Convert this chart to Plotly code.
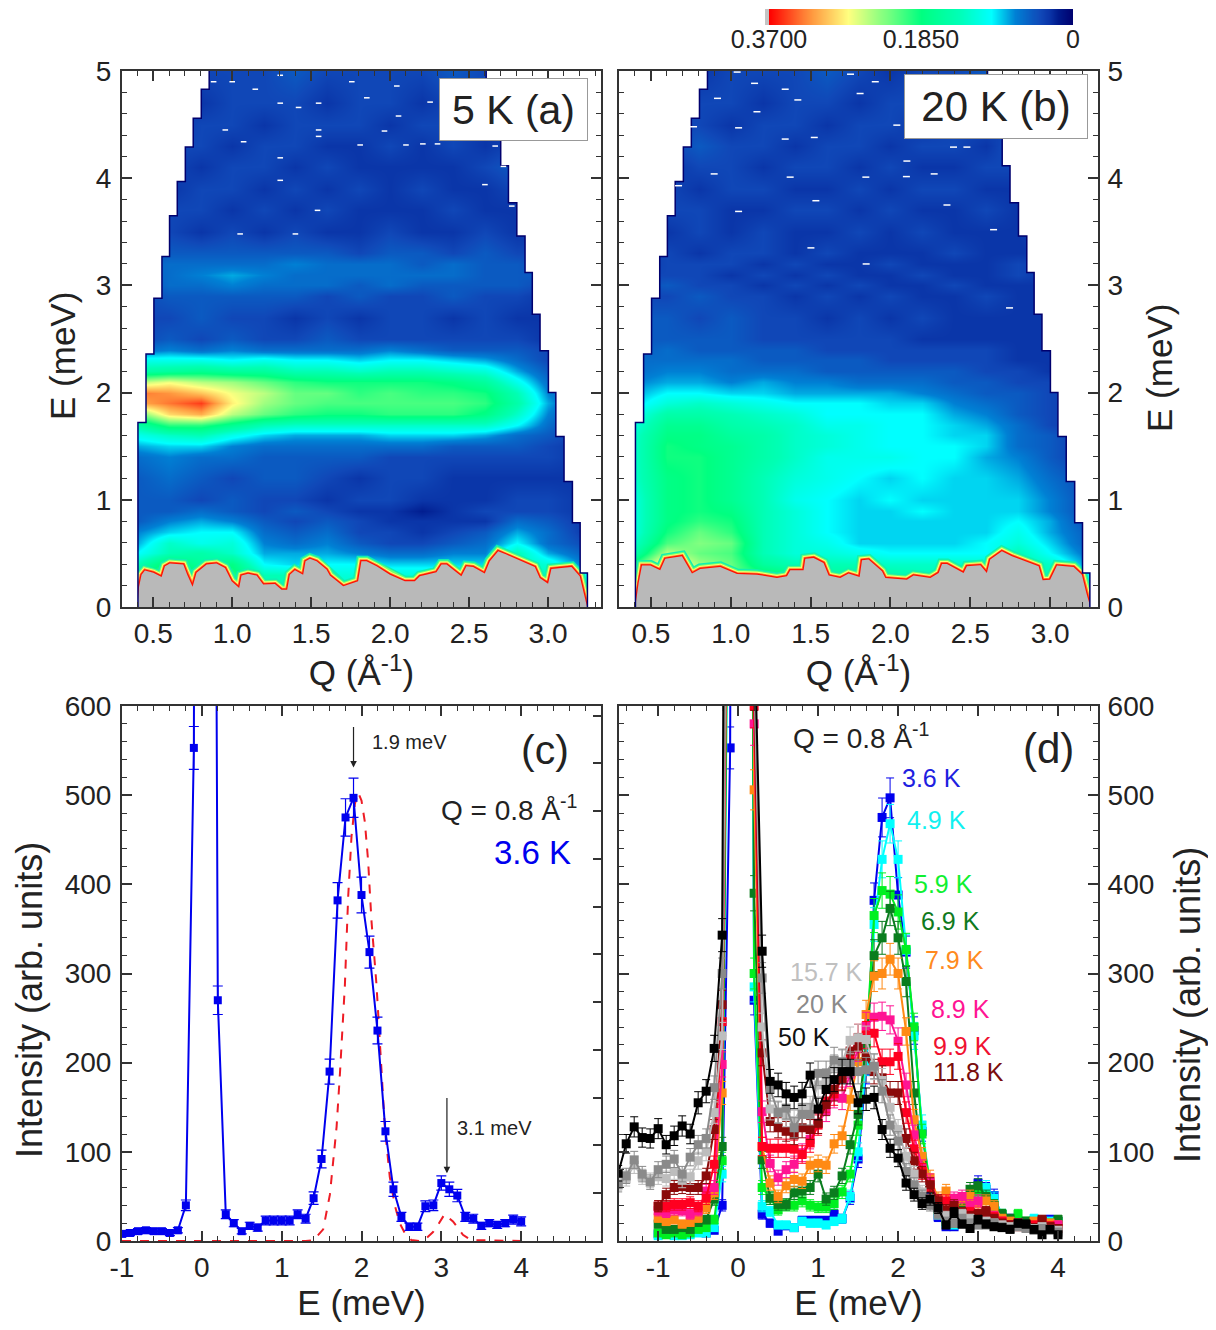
import numpy as np
import plotly.graph_objects as go

# page has an 8 px body margin, so the figure is a little smaller than the window
W, H = 1200, 1314
OFF = 8


def fx(x):
    return (x - OFF) / W


def fy(y):
    return 1 - (y - OFF) / H


# Colour maps: Q, E axes of the maps and z in units of 0.01
q_grid = [0.4, 0.6, 0.8, 1.0, 1.2, 1.4, 1.6, 1.8, 2.0, 2.2, 2.4, 2.6, 2.8, 3.0, 3.25]
e_grid = [0.1, 0.3, 0.4, 0.5, 0.6, 0.7, 0.8, 0.9, 1.0, 1.2, 1.4, 1.5, 1.6, 1.7, 1.8, 1.9, 2.0, 2.1,
          2.2, 2.3, 2.4, 2.5, 2.7, 2.9, 3.0, 3.1, 3.2, 3.3, 3.5, 3.7, 3.9, 4.1, 4.3, 4.5, 4.7, 5.0]
z_5k = [
    [14, 14, 14, 14, 14, 14, 14, 14, 14, 14, 14, 14, 14, 14, 10],
    [18, 23, 20, 20, 14, 14, 12, 12, 12, 12, 12, 12, 14, 14, 10],
    [14, 20, 16, 18, 10, 9, 10, 10, 9, 9, 9, 9, 14, 12, 6],
    [10, 14, 15, 13, 8, 8, 8, 7, 6, 6, 7, 7, 14, 8, 5],
    [8, 13, 11, 12, 7, 6, 7, 5, 4, 4, 5, 6, 10, 6, 4],
    [7, 9, 10, 10, 6, 5, 6, 4, 4, 3, 4, 5, 8, 6, 3],
    [5, 7, 8, 7, 5, 4, 5, 4, 3, 3, 3, 3, 6, 5, 3],
    [5, 5, 6, 5, 4, 5, 4, 3, 3, 2, 3, 4, 4, 4, 3],
    [5, 5, 4, 5, 4, 4, 3, 4, 4, 3, 3, 3, 4, 4, 3],
    [5, 6, 5, 4, 5, 5, 4, 3, 4, 4, 3, 3, 3, 3, 3],
    [6, 7, 6, 6, 5, 5, 5, 5, 4, 4, 4, 4, 4, 4, 3],
    [8, 9, 9, 7, 6, 6, 6, 6, 6, 6, 5, 5, 5, 4, 3],
    [11, 13, 14, 11, 9, 8, 8, 8, 9, 9, 9, 8, 6, 5, 3],
    [15, 20, 20, 17, 14, 13, 13, 13, 13, 13, 13, 13, 10, 6, 3],
    [22, 29, 31, 25, 22, 20, 19, 19, 20, 20, 20, 18, 13, 7, 3],
    [31, 33, 35, 28, 24, 22, 21, 21, 21, 21, 21, 20, 15, 8, 3],
    [33, 32, 30, 27, 25, 22, 22, 20, 21, 20, 20, 19, 14, 7, 3],
    [25, 27, 25, 24, 22, 20, 19, 19, 19, 19, 18, 16, 11, 6, 3],
    [15, 16, 17, 16, 16, 14, 14, 13, 14, 14, 13, 12, 8, 5, 3],
    [11, 11, 11, 10, 11, 10, 10, 9, 10, 10, 9, 8, 6, 4, 3],
    [6, 7, 6, 7, 6, 6, 6, 6, 7, 6, 5, 5, 5, 4, 3],
    [4, 5, 4, 5, 4, 4, 5, 4, 4, 4, 4, 4, 4, 3, 3],
    [4, 4, 5, 4, 4, 3, 4, 3, 4, 4, 3, 4, 3, 3, 3],
    [4, 5, 5, 5, 5, 5, 4, 5, 4, 4, 5, 4, 4, 3, 3],
    [4, 6, 6, 7, 6, 6, 6, 5, 6, 5, 5, 5, 5, 4, 3],
    [5, 6, 7, 8, 7, 6, 6, 6, 6, 6, 6, 5, 5, 5, 3],
    [5, 6, 6, 6, 6, 7, 6, 6, 6, 5, 6, 5, 5, 4, 3],
    [4, 5, 5, 5, 5, 5, 5, 4, 5, 5, 4, 5, 4, 4, 3],
    [3, 4, 3, 4, 3, 4, 3, 3, 4, 3, 3, 4, 3, 3, 3],
    [3, 4, 4, 3, 4, 3, 4, 3, 3, 3, 4, 3, 3, 4, 3],
    [3, 3, 4, 4, 3, 4, 3, 4, 3, 4, 3, 3, 4, 3, 3],
    [3, 4, 3, 4, 4, 3, 4, 3, 3, 3, 3, 4, 5, 4, 3],
    [3, 4, 4, 3, 4, 4, 3, 3, 4, 3, 4, 3, 4, 3, 3],
    [3, 3, 4, 4, 3, 4, 4, 4, 3, 4, 4, 3, 3, 3, 3],
    [3, 4, 3, 4, 4, 4, 3, 4, 4, 3, 4, 4, 3, 3, 3],
    [3, 4, 4, 4, 4, 5, 4, 4, 4, 4, 5, 4, 3, 3, 3],
]
z_20k = [
    [14, 14, 14, 14, 14, 14, 14, 14, 14, 14, 14, 14, 14, 14, 10],
    [25, 25, 25, 22, 20, 18, 16, 16, 15, 14, 14, 14, 14, 14, 10],
    [20, 30, 24, 22, 16, 14, 14, 14, 13, 13, 13, 13, 15, 13, 7],
    [15, 25, 22, 21, 14, 12, 12, 11, 10, 10, 10, 10, 14, 10, 6],
    [13, 21, 23, 22, 14, 12, 11, 9, 9, 9, 9, 10, 12, 9, 5],
    [12, 19, 22, 20, 14, 12, 10, 9, 9, 9, 9, 9, 11, 8, 5],
    [12, 18, 20, 19, 14, 12, 10, 9, 9, 9, 9, 9, 10, 8, 4],
    [12, 18, 19, 18, 14, 12, 10, 9, 9, 10, 9, 9, 9, 7, 4],
    [12, 18, 19, 17, 14, 11, 10, 9, 10, 9, 9, 9, 9, 7, 4],
    [13, 18, 19, 17, 14, 12, 11, 10, 9, 10, 9, 9, 8, 6, 4],
    [13, 19, 19, 17, 15, 13, 11, 11, 11, 10, 10, 8, 7, 5, 3],
    [13, 19, 18, 17, 15, 13, 12, 11, 10, 10, 10, 9, 6, 5, 3],
    [13, 18, 18, 16, 15, 13, 12, 11, 10, 10, 9, 9, 6, 5, 3],
    [12, 17, 17, 15, 14, 13, 11, 11, 10, 10, 9, 8, 6, 4, 3],
    [11, 15, 15, 14, 13, 12, 10, 10, 10, 10, 8, 7, 5, 4, 3],
    [9, 12, 13, 12, 11, 10, 10, 10, 9, 9, 7, 6, 5, 4, 3],
    [8, 10, 10, 9, 9, 8, 8, 8, 8, 7, 6, 5, 5, 4, 3],
    [7, 8, 8, 7, 8, 7, 7, 6, 6, 6, 5, 5, 4, 4, 3],
    [6, 7, 7, 6, 6, 6, 5, 5, 5, 5, 5, 4, 4, 3, 3],
    [6, 6, 6, 6, 5, 5, 5, 5, 4, 4, 4, 4, 3, 3, 3],
    [5, 6, 5, 5, 5, 5, 4, 4, 4, 4, 4, 4, 3, 3, 3],
    [5, 5, 5, 5, 4, 4, 4, 4, 4, 3, 3, 3, 3, 3, 3],
    [5, 5, 4, 5, 4, 4, 3, 4, 3, 4, 3, 3, 3, 3, 3],
    [4, 4, 5, 4, 4, 3, 4, 3, 4, 3, 3, 4, 3, 3, 3],
    [4, 5, 4, 4, 3, 4, 3, 4, 3, 3, 4, 3, 3, 3, 3],
    [4, 4, 4, 3, 4, 3, 4, 3, 3, 4, 3, 3, 4, 3, 3],
    [3, 4, 4, 4, 3, 4, 3, 3, 4, 3, 3, 3, 4, 3, 3],
    [3, 4, 3, 4, 4, 3, 4, 3, 3, 3, 4, 3, 3, 3, 3],
    [3, 3, 4, 3, 4, 3, 3, 4, 3, 4, 3, 3, 3, 4, 3],
    [3, 4, 4, 3, 3, 4, 4, 3, 4, 3, 3, 4, 3, 3, 3],
    [3, 4, 3, 4, 4, 3, 3, 4, 3, 4, 4, 3, 3, 3, 3],
    [3, 3, 4, 4, 3, 4, 4, 3, 4, 3, 3, 4, 4, 3, 3],
    [3, 4, 5, 4, 4, 3, 4, 4, 3, 4, 4, 3, 5, 3, 3],
    [3, 4, 4, 3, 4, 4, 3, 4, 4, 3, 4, 4, 3, 3, 3],
    [3, 4, 4, 4, 3, 4, 4, 3, 4, 4, 3, 4, 3, 3, 3],
    [3, 4, 3, 4, 4, 4, 5, 4, 3, 4, 4, 5, 3, 3, 3],
]

# Kinematic limits of the maps
left_e = [4.83, 4.56, 4.29, 3.97, 3.65, 3.27, 2.88, 2.36, 1.72, -0.1]
left_q = [0.854, 0.804, 0.753, 0.703, 0.652, 0.603, 0.555, 0.504, 0.454, 0.403]
right_e = [4.80, 4.46, 4.115, 3.77, 3.46, 3.12, 2.73, 2.39, 2.0, 1.59, 1.17, 0.785, 0.317, -0.1]
right_q = [2.608, 2.654, 2.70, 2.749, 2.802, 2.854, 2.90, 2.949, 3.002, 3.049, 3.101, 3.154, 3.203, 3.249]

# Elastic line cut-off (grey part)
cut_q_5k = [0.40, 0.41, 0.426, 0.447, 0.50, 0.553, 0.574, 0.605, 0.69, 0.715, 0.749, 0.774, 0.838, 0.90, 0.954,
            0.996, 1.044, 1.059, 1.10, 1.154, 1.196, 1.27, 1.312, 1.348, 1.365, 1.397, 1.449, 1.464, 1.492, 1.534,
            1.597, 1.618, 1.703, 1.797, 1.818, 1.85, 1.914, 1.998, 2.093, 2.156, 2.188, 2.293, 2.325, 2.357, 2.451,
            2.483, 2.525, 2.599, 2.631, 2.684, 2.736, 2.916, 2.947, 3.0, 3.021, 3.148, 3.20, 3.228, 3.247]
cut_e_5k = [0, 0.19, 0.30, 0.34, 0.32, 0.28, 0.38, 0.405, 0.396, 0.30, 0.19, 0.32, 0.396, 0.405, 0.364,
            0.24, 0.178, 0.293, 0.31, 0.293, 0.21, 0.215, 0.162, 0.162, 0.30, 0.343, 0.30, 0.427, 0.449, 0.427,
            0.349, 0.293, 0.193, 0.24, 0.427, 0.427, 0.38, 0.302, 0.24, 0.24, 0.287, 0.324, 0.396, 0.396, 0.287,
            0.38, 0.374, 0.312, 0.427, 0.52, 0.489, 0.374, 0.271, 0.218, 0.355, 0.374, 0.287, 0.13, 0]
cut_q_20k = [0.402, 0.423, 0.444, 0.496, 0.558, 0.59, 0.694, 0.757, 0.809, 0.934, 1.039, 1.164, 1.289, 1.352,
             1.373, 1.456, 1.467, 1.519, 1.581, 1.613, 1.686, 1.738, 1.807, 1.822, 1.863, 1.947, 1.968, 2.103,
             2.145, 2.25, 2.302, 2.323, 2.354, 2.458, 2.479, 2.563, 2.604, 2.625, 2.698, 2.761, 2.928, 2.953,
             3.0, 3.043, 3.147, 3.199, 3.227, 3.252]
cut_e_20k = [0, 0.224, 0.386, 0.386, 0.343, 0.449, 0.474, 0.312, 0.355, 0.374, 0.308, 0.302, 0.271, 0.287,
             0.343, 0.343, 0.449, 0.458, 0.411, 0.293, 0.271, 0.312, 0.28, 0.436, 0.442, 0.333, 0.271, 0.255,
             0.293, 0.271, 0.318, 0.402, 0.402, 0.318, 0.38, 0.389, 0.318, 0.442, 0.52, 0.474, 0.38, 0.249,
             0.255, 0.386, 0.374, 0.302, 0.131, 0]

# White hot pixels at high E
spot_q_5k = [1.0, 1.146, 0.882, 1.304, 1.757, 2.042, 2.253, 1.852, 1.304, 1.547, 1.42, 2.053, 0.956, 1.547, 1.964,
             1.072, 1.547, 1.81, 2.10, 2.207, 2.30, 2.665, 2.717, 2.60, 1.304, 1.54, 1.304, 2.77, 1.40, 1.05]
spot_e_5k = [4.90, 4.83, 4.90, 4.96, 4.90, 4.86, 4.71, 4.75, 4.70, 4.70, 4.66, 4.58, 4.45, 4.45, 4.44,
             4.34, 4.39, 4.31, 4.31, 4.32, 4.32, 4.30, 4.11, 3.94, 3.98, 3.70, 4.19, 3.74, 3.48, 3.48]
spot_q_20k = [1.04, 1.149, 1.905, 1.75, 1.341, 1.81, 0.917, 1.42, 1.164, 1.049, 1.341, 1.523, 0.767, 2.395, 2.479,
              2.103, 0.896, 1.372, 1.846, 2.10, 2.274, 0.673, 1.533, 1.049, 2.354, 2.646, 1.502, 1.848, 2.746, 2.04]
spot_e_20k = [4.99, 4.885, 4.90, 4.97, 4.83, 4.79, 4.745, 4.73, 4.62, 4.47, 4.365, 4.38, 4.48, 4.29, 4.29,
              4.16, 4.04, 4.01, 4.01, 4.015, 4.04, 3.93, 3.79, 3.69, 3.75, 3.52, 3.35, 3.20, 2.79, 4.495]

# Cuts at Q = 0.8, energy transfer in meV
e_short = [round(-1.0 + 0.1 * i, 1) for i in range(51)]
e_long = [round(-1.5 + 0.1 * i, 1) for i in range(56)]
i_36 = [8, 9, 11, 12, 11, 11, 9, 12, 40, 553, 4000, 2500, 270, 30, 20, 11, 17, 15, 23, 23, 23, 23, 30, 25, 48, 92,
        190, 382, 475, 497, 388, 324, 236, 123, 58, 27, 16, 16, 39, 40, 65, 58, 51, 27, 25, 17, 20, 18, 20, 24, 22]
err_36 = [3, 3, 3, 3, 3, 3, 3, 3, 6, 24, 60, 50, 16, 5, 4, 3, 4, 4, 5, 5, 5, 5, 5, 5, 7, 10,
          14, 20, 21, 22, 20, 18, 15, 11, 8, 5, 4, 4, 6, 6, 8, 8, 7, 5, 5, 4, 4, 4, 4, 5, 5]
i_49 = [6, 9, 6, 6, 7, 9, 9, 15, 75, 1000, 4000, 2500, 285, 39, 33, 18, 18, 15, 22, 20, 20, 18, 22, 25, 50, 100,
        200, 355, 428, 468, 428, 326, 230, 130, 60, 30, 20, 18, 30, 40, 55, 60, 48, 30, 24, 20, 18, 25, 22, 22, 20]
i_59 = [9, 7, 9, 7, 9, 13, 15, 24, 90, 1050, 4000, 2500, 300, 60, 48, 35, 40, 40, 45, 40, 38, 38, 42, 55, 75, 130,
        220, 365, 393, 389, 369, 327, 240, 120, 65, 35, 22, 20, 35, 45, 55, 48, 40, 30, 22, 30, 22, 20, 22, 20, 22]
i_69 = [19, 13, 13, 15, 13, 21, 24, 47, 106, 1100, 4000, 2500, 390, 91, 48, 41, 41, 54, 56, 60, 75, 47, 54, 73, 108,
        142, 220, 320, 340, 373, 340, 291, 166, 88, 63, 35, 25, 30, 35, 58, 62, 50, 40, 30, 25, 20, 22, 20, 22, 18, 24]
i_79 = [26, 22, 24, 19, 21, 26, 37, 54, 166, 1150, 4000, 2500, 506, 106, 65, 50, 62, 69, 67, 85, 87, 85, 109, 118,
        159, 201, 254, 297, 300, 316, 300, 235, 136, 95, 71, 48, 56, 35, 47, 50, 42, 45, 39, 25, 22, 20, 18, 22, 20, 20, 18]
i_89 = [34, 32, 35, 34, 30, 34, 56, 60, 198, 1200, 4000, 2500, 580, 145, 87, 71, 80, 86, 99, 114, 132, 146, 162, 160,
        187, 216, 241, 251, 252, 248, 224, 175, 119, 82, 67, 45, 30, 48, 50, 40, 45, 30, 28, 22, 18, 20, 18, 15, 20, 16, 18]
i_99 = [39, 39, 41, 41, 43, 39, 48, 86, 246, 1250, 4000, 2500, 600, 106, 104, 104, 104, 103, 97, 110, 130, 157, 165,
        183, 209, 228, 231, 233, 201, 201, 207, 144, 103, 78, 60, 45, 45, 35, 30, 32, 30, 32, 27, 22, 18, 18, 16, 18, 22, 17, 14]
i_118 = [39, 52, 60, 61, 60, 60, 73, 125, 265, 1280, 4000, 2500, 620, 211, 134, 127, 123, 119, 127, 125, 132, 153, 170,
         182, 213, 218, 207, 190, 183, 166, 166, 115, 90, 75, 63, 45, 35, 40, 32, 28, 30, 33, 25, 20, 18, 16, 17, 15, 24, 16, 14]
i_157 = [65, 70, 85, 72, 68, 72, 70, 78, 68, 72, 90, 100, 144, 230, 1300, 4000, 2500, 650, 240, 148, 145, 140, 135, 150,
         150, 175, 180, 195, 200, 225, 228, 226, 195, 180, 150, 125, 95, 75, 55, 45, 35, 28, 25, 30, 25, 22, 22, 20, 18,
         16, 17, 15, 14, 16, 13, 12]
i_20 = [63, 73, 91, 75, 66, 80, 86, 92, 75, 94, 108, 115, 172, 300, 1350, 4000, 2500, 660, 295, 170, 144, 149, 127, 142,
        142, 188, 188, 203, 201, 198, 190, 192, 196, 168, 130, 112, 78, 63, 50, 40, 30, 22, 20, 25, 20, 18, 18, 20, 16,
        14, 16, 14, 12, 14, 12, 10]
i_50 = [76, 109, 128, 116, 115, 126, 108, 118, 129, 120, 155, 168, 216, 343, 1371, 4000, 2500, 700, 325, 179, 175, 165,
        161, 165, 186, 148, 170, 181, 190, 190, 155, 159, 161, 125, 104, 93, 65, 52, 42, 47, 37, 18, 32, 19, 14, 24, 19,
        16, 15, 13, 20, 19, 13, 7, 13, 7]

# Dashed fit in panel (c)
fit_e = [-1, 1.3, 1.4, 1.52, 1.604, 1.688, 1.73, 1.792, 1.833, 1.875, 1.917, 1.958, 2.0, 2.042, 2.083, 2.125, 2.188,
         2.25, 2.292, 2.354, 2.417, 2.479, 2.542, 2.625, 2.73, 2.81, 2.896, 2.958, 3.04, 3.146, 3.27, 3.375, 4.0]
fit_i = [0, 0, 1, 13, 52, 128, 188, 287, 386, 454, 490, 503, 494, 470, 426, 359, 287,
         199, 128, 72, 40, 20, 9, 1, 0, 3, 10, 18, 30, 22, 7, 1, 0]

series_d = [
    ('3.6 K', e_short, i_36, '#0000ee'), ('4.9 K', e_short, i_49, '#00ffff'), ('5.9 K', e_short, i_59, '#00f020'),
    ('6.9 K', e_short, i_69, '#0a7d1e'), ('7.9 K', e_short, i_79, '#ff8a14'), ('8.9 K', e_short, i_89, '#ff1493'),
    ('9.9 K', e_short, i_99, '#ff0020'), ('11.8 K', e_short, i_118, '#8b0a0a'), ('15.7 K', e_long, i_157, '#bdbdbd'),
    ('20 K', e_long, i_20, '#8a8a8a'), ('50 K', e_long, i_50, '#000000'),
]
labels_d = [('3.6 K', 931, 778, '#2020e0'), ('4.9 K', 936, 820, '#10f0f0'), ('5.9 K', 943, 884, '#10f030'),
            ('6.9 K', 950, 921, '#107a20'), ('7.9 K', 954, 960, '#ff8a20'), ('15.7 K', 826, 972, '#c0c0c0'),
            ('20 K', 822, 1004, '#8a8a8a'), ('8.9 K', 960, 1009, '#ff1493'), ('50 K', 804, 1037, '#111111'),
            ('9.9 K', 962, 1046, '#f01030'), ('11.8 K', 968, 1072, '#7a0c0c')]

q_ticks = [0.5, 1.0, 1.5, 2.0, 2.5, 3.0]
q_labels = ['0.5', '1.0', '1.5', '2.0', '2.5', '3.0']
e_ticks_c = [-1, 0, 1, 2, 3, 4, 5]
e_labels_c = ['-1', '0', '1', '2', '3', '4', '5']
e_ticks_d = [-1, 0, 1, 2, 3, 4]
e_labels_d = ['-1', '0', '1', '2', '3', '4']

bar_values = [0.37 * i / 60 for i in range(61)]
bar_ticks = [0.37, 0.185, 0]
bar_labels = ['0.3700', '0.1850', '0']

cmap = [[0, '#00006e'], [0.05, '#001a8c'], [0.08, '#0a35a8'], [0.11, '#1048b8'], [0.19, '#0080d4'], [0.27, '#00ffff'],
        [0.38, '#00ffb4'], [0.5, '#00ff80'], [0.62, '#80ff80'], [0.74, '#ffff80'], [0.86, '#ff9a40'], [1, '#ff0000']]

FONT = 'Liberation Sans'
INK = '#222222'
AX = '#333333'


def axis(dom, rng, anc, major, minor, mirror='ticks', side=None, title=None, standoff=None, label_gap=0,
         tickvals=None, ticktext=None):
    d = dict(domain=dom, range=rng, anchor=anc, ticks='inside', ticklen=10, tickwidth=1.5, automargin=False,
             tickcolor=AX, showline=True, linecolor=AX, linewidth=2, mirror=mirror, showgrid=False, zeroline=False,
             ticklabelstandoff=label_gap, tickfont=dict(family=FONT, size=28, color=INK),
             minor=dict(ticks='inside', ticklen=5, tickwidth=1.2, tickcolor=AX, dtick=minor, tick0=0, showgrid=False))
    if tickvals:
        d.update(tickmode='array', tickvals=tickvals, ticktext=ticktext)
    else:
        d.update(dtick=major, tick0=0)
    if side:
        d['side'] = side
    if title:
        d['title'] = dict(text=title, font=dict(family=FONT, size=35, color=INK), standoff=standoff)
    return d


fig = go.Figure()


def add_map(z, cut_q, cut_e, spot_q, spot_e, spot_size, xa, ya):
    fig.add_trace(go.Heatmap(x=q_grid, y=e_grid, z=np.array(z) / 100, zmin=0, zmax=0.37, colorscale=cmap, zsmooth='best',
                             showscale=False, xaxis=xa, yaxis=ya))
    # thin bright rim on top of the grey area
    for col, wid in [('#10f0b0', 11), ('#70ff70', 8), ('#ffff70', 6), ('#ff8030', 4), ('#ff1000', 2.5)]:
        fig.add_trace(go.Scatter(x=cut_q, y=cut_e, mode='lines', line=dict(color=col, width=wid), showlegend=False,
                                 xaxis=xa, yaxis=ya))
    fig.add_trace(go.Scatter(x=cut_q, y=cut_e, mode='lines', fill='toself', fillcolor='#b9b9b9',
                             line=dict(color='#b9b9b9', width=0), showlegend=False, xaxis=xa, yaxis=ya))
    # white outside the detector range
    lx, ly, prev = [0, left_q[0]], [5.3, 5.3], None
    for q, e in zip(left_q, left_e):
        if prev is not None:
            lx.append(q)
            ly.append(prev)
        lx.append(q)
        ly.append(e)
        prev = e
    lx.append(0)
    ly.append(-0.1)
    rx, ry, prev = [4, right_q[0]], [5.3, 5.3], None
    for q, e in zip(right_q, right_e):
        if prev is not None:
            rx.append(q)
            ry.append(prev)
        rx.append(q)
        ry.append(e)
        prev = e
    rx.append(4)
    ry.append(-0.1)
    for mx, my in [(lx, ly), (rx, ry)]:
        fig.add_trace(go.Scatter(x=mx, y=my, mode='lines', fill='toself', fillcolor='white',
                                 line=dict(color='#00006e', width=1.5), showlegend=False, xaxis=xa, yaxis=ya))
    fig.add_trace(go.Scatter(x=spot_q, y=spot_e, mode='markers', showlegend=False, xaxis=xa, yaxis=ya,
                             marker=dict(symbol='line-ew', size=spot_size, color='white',
                                         line=dict(color='white', width=1.5))))


add_map(z_5k, cut_q_5k, cut_e_5k, spot_q_5k, spot_e_5k, 4, 'x', 'y')
add_map(z_20k, cut_q_20k, cut_e_20k, spot_q_20k, spot_e_20k, 5, 'x2', 'y2')

# panel (c)
fig.add_trace(go.Scatter(x=fit_e, y=fit_i, mode='lines', line=dict(color='#ee1c25', width=2, dash='dash'),
                         showlegend=False, xaxis='x3', yaxis='y3'))
fig.add_trace(go.Scatter(x=e_short, y=i_36, mode='lines+markers', line=dict(color='#0000ee', width=2),
                         marker=dict(symbol='square', size=8, color='#0000ee'), showlegend=False, xaxis='x3', yaxis='y3',
                         error_y=dict(type='data', array=err_36, width=5, thickness=1.2, color='#0000ee')))
fig.add_trace(go.Scatter(x=[None], y=[None], showlegend=False, xaxis='x3', yaxis='y6'))

# panel (d), error bars are the counting error of each point
for name, ex, iy, col in series_d:
    fig.add_trace(go.Scatter(x=ex, y=iy, mode='lines+markers', name=name, line=dict(color=col, width=2),
                             marker=dict(symbol='square', size=9, color=col), showlegend=False, xaxis='x4', yaxis='y4',
                             error_y=dict(type='data', array=np.sqrt(iy).tolist(), width=4, thickness=1, color=col)))

# colour bar
fig.add_trace(go.Heatmap(x=bar_values, y=[0, 1], z=[bar_values, bar_values], zmin=0, zmax=0.37, colorscale=cmap,
                         zsmooth='best', showscale=False, xaxis='x5', yaxis='y5'))

top_dom, bot_dom = [fy(607), fy(71)], [fy(1241), fy(706)]
ax_a, ax_b = [fx(122), fx(601)], [fx(619), fx(1098)]
q_title = 'Q (Å<sup>-1</sup>)'
fig.update_layout(
    width=W, height=H, margin=dict(l=0, r=0, t=0, b=0, autoexpand=False), paper_bgcolor='white', plot_bgcolor='white',
    font=dict(family=FONT, color=INK), showlegend=False,
    xaxis=axis(ax_a, [0.302, 3.335], 'y', 0.5, 0.1, title=q_title, standoff=8, tickvals=q_ticks, ticktext=q_labels),
    yaxis=axis(top_dom, [0, 5], 'x', 1, 0.2, label_gap=3),
    xaxis2=axis(ax_b, [0.30, 3.30], 'y2', 0.5, 0.1, title=q_title, standoff=8, tickvals=q_ticks, ticktext=q_labels),
    yaxis2=axis(top_dom, [0, 5], 'x2', 1, 0.2, side='right', label_gap=2),
    xaxis3=axis(ax_a, [-1, 5], 'y3', 1, 0.2, title='E (meV)', standoff=13, tickvals=e_ticks_c, ticktext=e_labels_c),
    yaxis3=axis(bot_dom, [0, 600], 'x3', 100, 20, mirror=True, label_gap=3),
    xaxis4=axis(ax_b, [-1.49, 4.5], 'y4', 1, 0.2, title='E (meV)', standoff=13, tickvals=e_ticks_d, ticktext=e_labels_d),
    yaxis4=axis(bot_dom, [0, 600], 'x4', 100, 20, side='right', label_gap=2),
    xaxis5=dict(domain=[fx(769), fx(1073)], range=[0.37, 0], anchor='y5', tickmode='array', tickvals=bar_ticks,
                ticktext=bar_labels, ticks='', showline=False, showgrid=False, zeroline=False, automargin=False,
                ticklabelstandoff=-3, tickfont=dict(family=FONT, size=25, color=INK)),
    yaxis5=dict(domain=[fy(25), fy(9)], range=[0, 1], anchor='x5', showticklabels=False, ticks='', showline=False,
                showgrid=False, zeroline=False, automargin=False),
    yaxis6=dict(domain=bot_dom, range=[0, 11.2], overlaying='y3', side='right', anchor='x3', dtick=1, ticks='inside',
                ticklen=8, tickwidth=1.5, tickcolor=AX, showticklabels=False, showgrid=False, zeroline=False,
                showline=False, automargin=False),
)


def note(text, x, y, size, color=INK, **kw):
    fig.add_annotation(text=text, x=fx(x), y=fy(y), xref='paper', yref='paper', showarrow=False, xanchor='center',
                       yanchor='middle', font=dict(family=FONT, size=size, color=color), **kw)


# y titles sit off-centre against their axes, so they are placed by hand
note('E (meV)', 62, 356, 35, textangle=-90)
note('E (meV)', 1159, 368, 35, textangle=-90)
note('Intensity (arb. units)', 29, 1000, 36, textangle=-90)
note('Intensity (arb. units)', 1187, 1005, 36, textangle=-90)

note('5 K (a)', 513.5, 109.5, 41, bgcolor='white', bordercolor='#999999', borderwidth=1, borderpad=0, width=147, height=61)
note('20 K (b)', 996, 106.5, 42, bgcolor='white', bordercolor='#999999', borderwidth=1, borderpad=0, width=182, height=63)
note('(c)', 545, 750, 41)
note('(d)', 1048, 748, 42)
note('Q = 0.8 Å<sup>-1</sup>', 509, 808, 28)
note('3.6 K', 532, 852, 33, color='#0000ee')
note('Q = 0.8 Å<sup>-1</sup>', 861, 736, 28)
note('1.9 meV', 409, 742, 20)
note('3.1 meV', 494, 1128, 20)
for text, x, y, col in labels_d:
    note(text, x, y, 25, color=col)

for x0, y0, y1 in [(1.9, 578, 531), (3.07, 162, 76)]:
    fig.add_annotation(x=x0, y=y1, ax=x0, ay=y0, xref='x3', yref='y3', axref='x3', ayref='y3', text='', showarrow=True,
                       arrowhead=2, arrowsize=1.1, arrowwidth=1.2, arrowcolor='#222222')

fig.add_shape(type='rect', xref='paper', yref='paper', x0=fx(765), x1=fx(769), y0=fy(25), y1=fy(9),
              fillcolor='#c4c4c4', line=dict(width=0))

fig.write_html('out.html')
